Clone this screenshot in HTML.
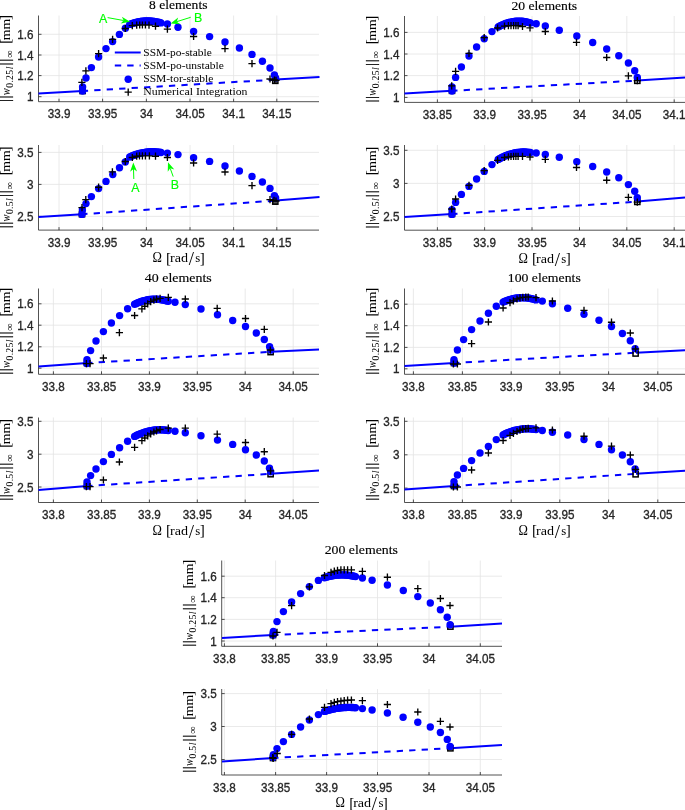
<!DOCTYPE html>
<html><head><meta charset="utf-8"><title>SSM figure</title>
<style>
html,body{margin:0;padding:0;background:#fff}
svg{display:block}
.tk{font-family:"Liberation Sans",sans-serif;font-size:11.7px;fill:#262626;stroke:#262626;stroke-width:0.3px}
.se{font-family:"Liberation Serif",serif;fill:#000}
.gr{font-family:"Liberation Sans",sans-serif;font-size:12.4px;fill:#00ff00;stroke:#00ff00;stroke-width:0.15px}
</style></head><body>
<svg width="685" height="810" viewBox="0 0 685 810">
<rect width="685" height="810" fill="#fff"/>
<g id="plot1">
<path d="M59 15.5V101.7M102.6 15.5V101.7M146.4 15.5V101.7M190 15.5V101.7M233.6 15.5V101.7M276.8 15.5V101.7M38.5 34.3H319M38.5 55H319M38.5 75.6H319M38.5 96.7H319" stroke="#e4e4e4" stroke-width="0.8" fill="none"/>
<path d="M38.5 15.5V101.7H319M59 101.7v-3M102.6 101.7v-3M146.4 101.7v-3M190 101.7v-3M233.6 101.7v-3M276.8 101.7v-3M38.5 34.3h3M38.5 55h3M38.5 75.6h3M38.5 96.7h3" stroke="#262626" stroke-width="0.8" fill="none"/>
<path d="M38.5 93.6L82.6 91M276 79.6L319.5 77" stroke="#0000ff" stroke-width="2" fill="none"/>
<path d="M82.6 91L276 79.6" stroke="#0000ff" stroke-width="2" stroke-dasharray="6.3 6.17" stroke-dashoffset="0.8" fill="none"/>
<rect x="80" y="88.4" width="5.2" height="5.2" stroke="#000" stroke-width="1.5" fill="none"/>
<rect x="272.7" y="78.2" width="5.2" height="5.2" stroke="#000" stroke-width="1.5" fill="none"/>
<g fill="#0000ff"><circle cx="82.6" cy="91" r="3.7"/><circle cx="82.6" cy="87" r="3.7"/><circle cx="86" cy="78" r="3.7"/><circle cx="91.4" cy="67.6" r="3.7"/><circle cx="98.6" cy="57" r="3.7"/><circle cx="106" cy="48.6" r="3.7"/><circle cx="112.6" cy="41.6" r="3.7"/><circle cx="119.4" cy="34.4" r="3.7"/><circle cx="125.4" cy="28.2" r="3.7"/><circle cx="129.7" cy="24.4" r="3.7"/><circle cx="131.06" cy="23.89" r="3.7"/><circle cx="132.42" cy="23.42" r="3.7"/><circle cx="133.78" cy="22.99" r="3.7"/><circle cx="135.14" cy="22.61" r="3.7"/><circle cx="136.5" cy="22.26" r="3.7"/><circle cx="137.87" cy="21.95" r="3.7"/><circle cx="139.23" cy="21.68" r="3.7"/><circle cx="140.59" cy="21.46" r="3.7"/><circle cx="141.95" cy="21.27" r="3.7"/><circle cx="143.31" cy="21.13" r="3.7"/><circle cx="144.67" cy="21.02" r="3.7"/><circle cx="146.03" cy="20.96" r="3.7"/><circle cx="147.39" cy="20.93" r="3.7"/><circle cx="148.75" cy="20.95" r="3.7"/><circle cx="150.11" cy="21" r="3.7"/><circle cx="151.47" cy="21.1" r="3.7"/><circle cx="152.83" cy="21.23" r="3.7"/><circle cx="154.2" cy="21.41" r="3.7"/><circle cx="155.56" cy="21.63" r="3.7"/><circle cx="156.92" cy="21.89" r="3.7"/><circle cx="158.28" cy="22.18" r="3.7"/><circle cx="159.64" cy="22.52" r="3.7"/><circle cx="161" cy="22.9" r="3.7"/><circle cx="167.4" cy="24" r="3.7"/><circle cx="178" cy="27.2" r="3.7"/><circle cx="193.6" cy="31.4" r="3.7"/><circle cx="209.6" cy="36.6" r="3.7"/><circle cx="225" cy="42" r="3.7"/><circle cx="239.4" cy="48" r="3.7"/><circle cx="252" cy="54.4" r="3.7"/><circle cx="262.4" cy="61.2" r="3.7"/><circle cx="270" cy="68" r="3.7"/><circle cx="274.4" cy="75" r="3.7"/><circle cx="275.6" cy="78" r="3.7"/></g>
<path d="M78.3 82.3h7.2M81.9 78.7v7.2M82.3 70.8h7.2M85.9 67.2v7.2M95 53.6h7.2M98.6 50v7.2M109 39.4h7.2M112.6 35.8v7.2M121.7 28.5h7.2M125.3 24.9v7.2M128.7 25.6h7.2M132.3 22v7.2M133.1 25.1h7.2M136.7 21.5v7.2M136.1 25h7.2M139.7 21.4v7.2M138.8 25h7.2M142.4 21.4v7.2M141.8 25h7.2M145.4 21.4v7.2M145.4 25.1h7.2M149 21.5v7.2M151.9 26.2h7.2M155.5 22.6v7.2M163.8 29.1h7.2M167.4 25.5v7.2M190 36.5h7.2M193.6 32.9v7.2M221.4 48.6h7.2M225 45v7.2M248.4 63.6h7.2M252 60v7.2M266.4 79h7.2M270 75.4v7.2M270.8 80h7.2M274.4 76.4v7.2M272.4 80.4h7.2M276 76.8v7.2" stroke="#000" stroke-width="1.35" fill="none"/>
<text class="tk" transform="translate(59 118.3) scale(1 1.15)" text-anchor="middle">33.9</text><text class="tk" transform="translate(102.6 118.3) scale(1 1.15)" text-anchor="middle">33.95</text><text class="tk" transform="translate(146.4 118.3) scale(1 1.15)" text-anchor="middle">34</text><text class="tk" transform="translate(190 118.3) scale(1 1.15)" text-anchor="middle">34.05</text><text class="tk" transform="translate(233.6 118.3) scale(1 1.15)" text-anchor="middle">34.1</text><text class="tk" transform="translate(276.8 118.3) scale(1 1.15)" text-anchor="middle">34.15</text>
<text class="tk" transform="translate(33.5 38.9) scale(1 1.15)" text-anchor="end">1.6</text><text class="tk" transform="translate(33.5 59.6) scale(1 1.15)" text-anchor="end">1.4</text><text class="tk" transform="translate(33.5 80.2) scale(1 1.15)" text-anchor="end">1.2</text><text class="tk" transform="translate(33.5 101.3) scale(1 1.15)" text-anchor="end">1</text>
<g transform="translate(10 101.85) rotate(-90)" class="se"><text font-size="15.1" y="-0.2" stroke="#000" stroke-width="0.25" x="-0.16 3.34 36.34 40.14">||||</text><text font-size="13.4" font-style="italic" x="6.6" y="0" textLength="7" lengthAdjust="spacingAndGlyphs">w</text><text font-size="9.7" y="2.7"><tspan x="14.1 19.3 21.9 27.1">0.25</tspan><tspan font-style="italic" x="32.5">l</tspan></text><text font-size="10.5" x="44" y="2.8">∞</text><text font-size="15.1" y="-0.2" x="58.1">[</text><text font-size="12.8" x="61.6" y="0" textLength="21.5" lengthAdjust="spacingAndGlyphs">mm</text><text font-size="15.1" y="-0.2" x="81.8">]</text></g>
<text class="se" font-size="13.3" stroke="#000" stroke-width="0.15" x="178.25" y="9.1" text-anchor="middle" textLength="58.4" lengthAdjust="spacingAndGlyphs">8 elements</text>
</g>
<g id="plot2">
<path d="M59 145V230.1M102.6 145V230.1M146.4 145V230.1M190 145V230.1M233.6 145V230.1M276.8 145V230.1M38.5 152.4H319M38.5 184.4H319M38.5 216.4H319" stroke="#e4e4e4" stroke-width="0.8" fill="none"/>
<path d="M38.5 145V230.1H319M59 230.1v-3M102.6 230.1v-3M146.4 230.1v-3M190 230.1v-3M233.6 230.1v-3M276.8 230.1v-3M38.5 152.4h3M38.5 184.4h3M38.5 216.4h3" stroke="#262626" stroke-width="0.8" fill="none"/>
<path d="M38.5 217.1L82 214.2M276 200.6L319.5 197" stroke="#0000ff" stroke-width="2" fill="none"/>
<path d="M82 214.2L276 200.6" stroke="#0000ff" stroke-width="2" stroke-dasharray="6.3 6.17" stroke-dashoffset="0.8" fill="none"/>
<rect x="79.4" y="211.6" width="5.2" height="5.2" stroke="#000" stroke-width="1.5" fill="none"/>
<rect x="272.7" y="199" width="5.2" height="5.2" stroke="#000" stroke-width="1.5" fill="none"/>
<g fill="#0000ff"><circle cx="82" cy="214.4" r="3.7"/><circle cx="82.4" cy="210" r="3.7"/><circle cx="86" cy="203.6" r="3.7"/><circle cx="91.4" cy="196.6" r="3.7"/><circle cx="98.6" cy="188.6" r="3.7"/><circle cx="106" cy="181.4" r="3.7"/><circle cx="112.8" cy="174.6" r="3.7"/><circle cx="119.5" cy="167.8" r="3.7"/><circle cx="125.3" cy="162" r="3.7"/><circle cx="129.7" cy="157" r="3.7"/><circle cx="131.06" cy="156.39" r="3.7"/><circle cx="132.42" cy="155.81" r="3.7"/><circle cx="133.78" cy="155.28" r="3.7"/><circle cx="135.14" cy="154.78" r="3.7"/><circle cx="136.5" cy="154.32" r="3.7"/><circle cx="137.87" cy="153.9" r="3.7"/><circle cx="139.23" cy="153.51" r="3.7"/><circle cx="140.59" cy="153.16" r="3.7"/><circle cx="141.95" cy="152.86" r="3.7"/><circle cx="143.31" cy="152.58" r="3.7"/><circle cx="144.67" cy="152.35" r="3.7"/><circle cx="146.03" cy="152.15" r="3.7"/><circle cx="147.39" cy="152" r="3.7"/><circle cx="148.75" cy="151.88" r="3.7"/><circle cx="150.11" cy="151.79" r="3.7"/><circle cx="151.47" cy="151.75" r="3.7"/><circle cx="152.83" cy="151.74" r="3.7"/><circle cx="154.2" cy="151.78" r="3.7"/><circle cx="155.56" cy="151.84" r="3.7"/><circle cx="156.92" cy="151.95" r="3.7"/><circle cx="158.28" cy="152.1" r="3.7"/><circle cx="159.64" cy="152.28" r="3.7"/><circle cx="161" cy="152.5" r="3.7"/><circle cx="167.4" cy="153.1" r="3.7"/><circle cx="178" cy="154.6" r="3.7"/><circle cx="193.6" cy="157.7" r="3.7"/><circle cx="209.6" cy="161.4" r="3.7"/><circle cx="225" cy="166" r="3.7"/><circle cx="239.4" cy="171" r="3.7"/><circle cx="252" cy="176.4" r="3.7"/><circle cx="262.4" cy="182" r="3.7"/><circle cx="270" cy="188.4" r="3.7"/><circle cx="274.4" cy="195.6" r="3.7"/><circle cx="275.6" cy="198" r="3.7"/></g>
<path d="M78.4 207.6h7.2M82 204v7.2M82.2 199.6h7.2M85.8 196v7.2M95 187.2h7.2M98.6 183.6v7.2M108.8 171.8h7.2M112.4 168.2v7.2M121.7 161.5h7.2M125.3 157.9v7.2M128.7 157.5h7.2M132.3 153.9v7.2M133.1 156.2h7.2M136.7 152.6v7.2M135.9 155.8h7.2M139.5 152.2v7.2M138.8 155.8h7.2M142.4 152.2v7.2M141.8 155.8h7.2M145.4 152.2v7.2M145.8 155.8h7.2M149.4 152.2v7.2M151.9 156.2h7.2M155.5 152.6v7.2M163.8 157.5h7.2M167.4 153.9v7.2M190 163h7.2M193.6 159.4v7.2M221.4 172h7.2M225 168.4v7.2M248.4 185.6h7.2M252 182v7.2M266.4 199.6h7.2M270 196v7.2M270.4 200.4h7.2M274 196.8v7.2M272.4 201h7.2M276 197.4v7.2" stroke="#000" stroke-width="1.35" fill="none"/>
<text class="tk" transform="translate(59 246.7) scale(1 1.15)" text-anchor="middle">33.9</text><text class="tk" transform="translate(102.6 246.7) scale(1 1.15)" text-anchor="middle">33.95</text><text class="tk" transform="translate(146.4 246.7) scale(1 1.15)" text-anchor="middle">34</text><text class="tk" transform="translate(190 246.7) scale(1 1.15)" text-anchor="middle">34.05</text><text class="tk" transform="translate(233.6 246.7) scale(1 1.15)" text-anchor="middle">34.1</text><text class="tk" transform="translate(276.8 246.7) scale(1 1.15)" text-anchor="middle">34.15</text>
<text class="tk" transform="translate(33.5 157) scale(1 1.15)" text-anchor="end">3.5</text><text class="tk" transform="translate(33.5 189) scale(1 1.15)" text-anchor="end">3</text><text class="tk" transform="translate(33.5 221) scale(1 1.15)" text-anchor="end">2.5</text>
<g transform="translate(10 228.2) rotate(-90)" class="se"><text font-size="15.1" y="-0.2" stroke="#000" stroke-width="0.25" x="-0.16 3.34 31.14 34.94">||||</text><text font-size="13.4" font-style="italic" x="6.6" y="0" textLength="7" lengthAdjust="spacingAndGlyphs">w</text><text font-size="9.7" y="2.7"><tspan x="14.1 19.3 21.9">0.5</tspan><tspan font-style="italic" x="27.3">l</tspan></text><text font-size="10.5" x="38.8" y="2.8">∞</text><text font-size="15.1" y="-0.2" x="52.9">[</text><text font-size="12.8" x="56.4" y="0" textLength="21.5" lengthAdjust="spacingAndGlyphs">mm</text><text font-size="15.1" y="-0.2" x="76.6">]</text></g>
<g class="se" transform="translate(178.25 262.4)"><text font-size="14.2" x="-25.8" textLength="9.4" lengthAdjust="spacingAndGlyphs">Ω</text><text font-size="15.2" x="-12.2" y="0.6">[</text><text font-size="12.8" x="-8.2" textLength="18" lengthAdjust="spacingAndGlyphs">rad</text><text font-size="18.8" x="10.4" y="3">/</text><text font-size="12.8" x="17.1">s</text><text font-size="15.2" x="21.4" y="0.6">]</text></g>
</g>
<g id="plot3">
<path d="M437.4 16V102.4M484.6 16V102.4M532 16V102.4M579.5 16V102.4M626.8 16V102.4M674.2 16V102.4M404.5 32.4H685M404.5 54H685M404.5 75.6H685M404.5 97.4H685" stroke="#e4e4e4" stroke-width="0.8" fill="none"/>
<path d="M404.5 16V102.4H685M437.4 102.4v-3M484.6 102.4v-3M532 102.4v-3M579.5 102.4v-3M626.8 102.4v-3M674.2 102.4v-3M404.5 32.4h3M404.5 54h3M404.5 75.6h3M404.5 97.4h3" stroke="#262626" stroke-width="0.8" fill="none"/>
<path d="M404.5 93.6L452 90.8M637.3 80.6L685 77.6" stroke="#0000ff" stroke-width="2" fill="none"/>
<path d="M452 90.8L637.3 80.6" stroke="#0000ff" stroke-width="2" stroke-dasharray="6.3 6.17" stroke-dashoffset="0.8" fill="none"/>
<rect x="449.4" y="88.2" width="5.2" height="5.2" stroke="#000" stroke-width="1.5" fill="none"/>
<rect x="634.7" y="78.2" width="5.2" height="5.2" stroke="#000" stroke-width="1.5" fill="none"/>
<g fill="#0000ff"><circle cx="452" cy="91" r="3.7"/><circle cx="452" cy="87" r="3.7"/><circle cx="455.6" cy="77.4" r="3.7"/><circle cx="461.4" cy="67" r="3.7"/><circle cx="469" cy="56" r="3.7"/><circle cx="476.6" cy="47" r="3.7"/><circle cx="484.2" cy="38.8" r="3.7"/><circle cx="492" cy="31.6" r="3.7"/><circle cx="498.2" cy="27" r="3.7"/><circle cx="499.54" cy="26.26" r="3.7"/><circle cx="500.88" cy="25.57" r="3.7"/><circle cx="502.22" cy="24.94" r="3.7"/><circle cx="503.57" cy="24.35" r="3.7"/><circle cx="504.91" cy="23.81" r="3.7"/><circle cx="506.25" cy="23.32" r="3.7"/><circle cx="507.59" cy="22.88" r="3.7"/><circle cx="508.93" cy="22.49" r="3.7"/><circle cx="510.27" cy="22.15" r="3.7"/><circle cx="511.62" cy="21.86" r="3.7"/><circle cx="512.96" cy="21.62" r="3.7"/><circle cx="514.3" cy="21.42" r="3.7"/><circle cx="515.64" cy="21.28" r="3.7"/><circle cx="516.98" cy="21.19" r="3.7"/><circle cx="518.32" cy="21.15" r="3.7"/><circle cx="519.67" cy="21.15" r="3.7"/><circle cx="521.01" cy="21.21" r="3.7"/><circle cx="522.35" cy="21.32" r="3.7"/><circle cx="523.69" cy="21.47" r="3.7"/><circle cx="525.03" cy="21.68" r="3.7"/><circle cx="526.38" cy="21.94" r="3.7"/><circle cx="527.72" cy="22.24" r="3.7"/><circle cx="529.06" cy="22.6" r="3.7"/><circle cx="530.4" cy="23" r="3.7"/><circle cx="536.2" cy="23.8" r="3.7"/><circle cx="545.3" cy="26" r="3.7"/><circle cx="559.3" cy="30.3" r="3.7"/><circle cx="576.8" cy="36" r="3.7"/><circle cx="592.7" cy="42.5" r="3.7"/><circle cx="606.7" cy="49" r="3.7"/><circle cx="618.8" cy="55.8" r="3.7"/><circle cx="628.4" cy="63" r="3.7"/><circle cx="634.7" cy="70.7" r="3.7"/><circle cx="637.3" cy="77.4" r="3.7"/></g>
<path d="M448.1 85.8h7.2M451.7 82.2v7.2M452 71.4h7.2M455.6 67.8v7.2M465.4 53.4h7.2M469 49.8v7.2M480.6 37.6h7.2M484.2 34v7.2M494 28h7.2M497.6 24.4v7.2M500.9 26.1h7.2M504.5 22.5v7.2M504.8 25.7h7.2M508.4 22.1v7.2M507.4 25.6h7.2M511 22v7.2M510 25.6h7.2M513.6 22v7.2M512.3 25.6h7.2M515.9 22v7.2M514.5 25.7h7.2M518.1 22.1v7.2M518.9 26.5h7.2M522.5 22.9v7.2M526.4 27.9h7.2M530 24.3v7.2M541.7 31.5h7.2M545.3 27.9v7.2M572.9 42.4h7.2M576.5 38.8v7.2M603.1 57.5h7.2M606.7 53.9v7.2M624.8 75.8h7.2M628.4 72.2v7.2M633.7 80.6h7.2M637.3 77v7.2" stroke="#000" stroke-width="1.35" fill="none"/>
<text class="tk" transform="translate(437.4 119) scale(1 1.15)" text-anchor="middle">33.85</text><text class="tk" transform="translate(484.6 119) scale(1 1.15)" text-anchor="middle">33.9</text><text class="tk" transform="translate(532 119) scale(1 1.15)" text-anchor="middle">33.95</text><text class="tk" transform="translate(579.5 119) scale(1 1.15)" text-anchor="middle">34</text><text class="tk" transform="translate(626.8 119) scale(1 1.15)" text-anchor="middle">34.05</text><text class="tk" transform="translate(674.2 119) scale(1 1.15)" text-anchor="middle">34.1</text>
<text class="tk" transform="translate(399.5 37) scale(1 1.15)" text-anchor="end">1.6</text><text class="tk" transform="translate(399.5 58.6) scale(1 1.15)" text-anchor="end">1.4</text><text class="tk" transform="translate(399.5 80.2) scale(1 1.15)" text-anchor="end">1.2</text><text class="tk" transform="translate(399.5 102) scale(1 1.15)" text-anchor="end">1</text>
<g transform="translate(376 102.45) rotate(-90)" class="se"><text font-size="15.1" y="-0.2" stroke="#000" stroke-width="0.25" x="-0.16 3.34 36.34 40.14">||||</text><text font-size="13.4" font-style="italic" x="6.6" y="0" textLength="7" lengthAdjust="spacingAndGlyphs">w</text><text font-size="9.7" y="2.7"><tspan x="14.1 19.3 21.9 27.1">0.25</tspan><tspan font-style="italic" x="32.5">l</tspan></text><text font-size="10.5" x="44" y="2.8">∞</text><text font-size="15.1" y="-0.2" x="58.1">[</text><text font-size="12.8" x="61.6" y="0" textLength="21.5" lengthAdjust="spacingAndGlyphs">mm</text><text font-size="15.1" y="-0.2" x="81.8">]</text></g>
<text class="se" font-size="13.3" stroke="#000" stroke-width="0.15" x="544.25" y="9.6" text-anchor="middle" textLength="65.7" lengthAdjust="spacingAndGlyphs">20 elements</text>
</g>
<g id="plot4">
<path d="M437.4 145V230.2M484.6 145V230.2M532 145V230.2M579.5 145V230.2M626.8 145V230.2M674.2 145V230.2M404.5 150.3H685M404.5 183.4H685M404.5 216.5H685" stroke="#e4e4e4" stroke-width="0.8" fill="none"/>
<path d="M404.5 145V230.2H685M437.4 230.2v-3M484.6 230.2v-3M532 230.2v-3M579.5 230.2v-3M626.8 230.2v-3M674.2 230.2v-3M404.5 150.3h3M404.5 183.4h3M404.5 216.5h3" stroke="#262626" stroke-width="0.8" fill="none"/>
<path d="M404.5 217L452 214M637.3 201.6L685 197.4" stroke="#0000ff" stroke-width="2" fill="none"/>
<path d="M452 214L637.3 201.6" stroke="#0000ff" stroke-width="2" stroke-dasharray="6.3 6.17" stroke-dashoffset="0.8" fill="none"/>
<rect x="449.4" y="211.4" width="5.2" height="5.2" stroke="#000" stroke-width="1.5" fill="none"/>
<rect x="634.7" y="199.3" width="5.2" height="5.2" stroke="#000" stroke-width="1.5" fill="none"/>
<g fill="#0000ff"><circle cx="452" cy="214.4" r="3.7"/><circle cx="452" cy="209.6" r="3.7"/><circle cx="455.6" cy="202.4" r="3.7"/><circle cx="461.4" cy="194.4" r="3.7"/><circle cx="469" cy="186.4" r="3.7"/><circle cx="476.6" cy="179" r="3.7"/><circle cx="484.2" cy="171.4" r="3.7"/><circle cx="492" cy="164.6" r="3.7"/><circle cx="498.2" cy="159.4" r="3.7"/><circle cx="499.54" cy="158.65" r="3.7"/><circle cx="500.88" cy="157.94" r="3.7"/><circle cx="502.22" cy="157.27" r="3.7"/><circle cx="503.57" cy="156.64" r="3.7"/><circle cx="504.91" cy="156.06" r="3.7"/><circle cx="506.25" cy="155.51" r="3.7"/><circle cx="507.59" cy="155" r="3.7"/><circle cx="508.93" cy="154.53" r="3.7"/><circle cx="510.27" cy="154.1" r="3.7"/><circle cx="511.62" cy="153.71" r="3.7"/><circle cx="512.96" cy="153.37" r="3.7"/><circle cx="514.3" cy="153.06" r="3.7"/><circle cx="515.64" cy="152.79" r="3.7"/><circle cx="516.98" cy="152.56" r="3.7"/><circle cx="518.32" cy="152.38" r="3.7"/><circle cx="519.67" cy="152.23" r="3.7"/><circle cx="521.01" cy="152.12" r="3.7"/><circle cx="522.35" cy="152.06" r="3.7"/><circle cx="523.69" cy="152.03" r="3.7"/><circle cx="525.03" cy="152.04" r="3.7"/><circle cx="526.38" cy="152.1" r="3.7"/><circle cx="527.72" cy="152.19" r="3.7"/><circle cx="529.06" cy="152.33" r="3.7"/><circle cx="530.4" cy="152.5" r="3.7"/><circle cx="536.2" cy="153" r="3.7"/><circle cx="545.3" cy="154.4" r="3.7"/><circle cx="559.3" cy="157.2" r="3.7"/><circle cx="576.8" cy="161.7" r="3.7"/><circle cx="592.7" cy="166.5" r="3.7"/><circle cx="606.7" cy="172" r="3.7"/><circle cx="618.8" cy="177.8" r="3.7"/><circle cx="628.4" cy="184.6" r="3.7"/><circle cx="634.7" cy="191.3" r="3.7"/><circle cx="637.3" cy="197.8" r="3.7"/></g>
<path d="M448.2 209h7.2M451.8 205.4v7.2M452 199h7.2M455.6 195.4v7.2M465.4 185.4h7.2M469 181.8v7.2M480.6 170.6h7.2M484.2 167v7.2M494 160.3h7.2M497.6 156.7v7.2M500.9 157.5h7.2M504.5 153.9v7.2M504.8 156.8h7.2M508.4 153.2v7.2M507.4 156.5h7.2M511 152.9v7.2M510 156.4h7.2M513.6 152.8v7.2M512.3 156.4h7.2M515.9 152.8v7.2M514.5 156.4h7.2M518.1 152.8v7.2M518.9 156.4h7.2M522.5 152.8v7.2M526.4 157h7.2M530 153.4v7.2M541.7 159.4h7.2M545.3 155.8v7.2M572.9 167.5h7.2M576.5 163.9v7.2M603.1 180.2h7.2M606.7 176.6v7.2M624.8 197.3h7.2M628.4 193.7v7.2M633.7 202.1h7.2M637.3 198.5v7.2" stroke="#000" stroke-width="1.35" fill="none"/>
<text class="tk" transform="translate(437.4 246.8) scale(1 1.15)" text-anchor="middle">33.85</text><text class="tk" transform="translate(484.6 246.8) scale(1 1.15)" text-anchor="middle">33.9</text><text class="tk" transform="translate(532 246.8) scale(1 1.15)" text-anchor="middle">33.95</text><text class="tk" transform="translate(579.5 246.8) scale(1 1.15)" text-anchor="middle">34</text><text class="tk" transform="translate(626.8 246.8) scale(1 1.15)" text-anchor="middle">34.05</text><text class="tk" transform="translate(674.2 246.8) scale(1 1.15)" text-anchor="middle">34.1</text>
<text class="tk" transform="translate(399.5 154.9) scale(1 1.15)" text-anchor="end">3.5</text><text class="tk" transform="translate(399.5 188) scale(1 1.15)" text-anchor="end">3</text><text class="tk" transform="translate(399.5 221.1) scale(1 1.15)" text-anchor="end">2.5</text>
<g transform="translate(376 228.25) rotate(-90)" class="se"><text font-size="15.1" y="-0.2" stroke="#000" stroke-width="0.25" x="-0.16 3.34 31.14 34.94">||||</text><text font-size="13.4" font-style="italic" x="6.6" y="0" textLength="7" lengthAdjust="spacingAndGlyphs">w</text><text font-size="9.7" y="2.7"><tspan x="14.1 19.3 21.9">0.5</tspan><tspan font-style="italic" x="27.3">l</tspan></text><text font-size="10.5" x="38.8" y="2.8">∞</text><text font-size="15.1" y="-0.2" x="52.9">[</text><text font-size="12.8" x="56.4" y="0" textLength="21.5" lengthAdjust="spacingAndGlyphs">mm</text><text font-size="15.1" y="-0.2" x="76.6">]</text></g>
<g class="se" transform="translate(544.25 262.5)"><text font-size="14.2" x="-25.8" textLength="9.4" lengthAdjust="spacingAndGlyphs">Ω</text><text font-size="15.2" x="-12.2" y="0.6">[</text><text font-size="12.8" x="-8.2" textLength="18" lengthAdjust="spacingAndGlyphs">rad</text><text font-size="18.8" x="10.4" y="3">/</text><text font-size="12.8" x="17.1">s</text><text font-size="15.2" x="21.4" y="0.6">]</text></g>
</g>
<g id="plot5">
<path d="M53.4 288.5V374.3M101.5 288.5V374.3M149.4 288.5V374.3M197.3 288.5V374.3M245.2 288.5V374.3M293.2 288.5V374.3M38.5 303.8H319M38.5 325.2H319M38.5 346.8H319M38.5 368.2H319" stroke="#e4e4e4" stroke-width="0.8" fill="none"/>
<path d="M38.5 288.5V374.3H319M53.4 374.3v-3M101.5 374.3v-3M149.4 374.3v-3M197.3 374.3v-3M245.2 374.3v-3M293.2 374.3v-3M38.5 303.8h3M38.5 325.2h3M38.5 346.8h3M38.5 368.2h3" stroke="#262626" stroke-width="0.8" fill="none"/>
<path d="M38.5 366.4L87 363M270.8 351.8L319 349.6" stroke="#0000ff" stroke-width="2" fill="none"/>
<path d="M87 363L270.8 351.8" stroke="#0000ff" stroke-width="2" stroke-dasharray="6.3 6.17" stroke-dashoffset="0.8" fill="none"/>
<rect x="84.4" y="360.4" width="5.2" height="5.2" stroke="#000" stroke-width="1.5" fill="none"/>
<rect x="268" y="349.5" width="5.2" height="5.2" stroke="#000" stroke-width="1.5" fill="none"/>
<g fill="#0000ff"><circle cx="86.8" cy="363.6" r="3.7"/><circle cx="87" cy="359.8" r="3.7"/><circle cx="90.6" cy="350.6" r="3.7"/><circle cx="96" cy="341" r="3.7"/><circle cx="103.4" cy="331.6" r="3.7"/><circle cx="111.4" cy="323" r="3.7"/><circle cx="119.6" cy="315.6" r="3.7"/><circle cx="127.6" cy="308.8" r="3.7"/><circle cx="134.6" cy="304.3" r="3.7"/><circle cx="135.94" cy="303.65" r="3.7"/><circle cx="137.29" cy="303.04" r="3.7"/><circle cx="138.63" cy="302.48" r="3.7"/><circle cx="139.98" cy="301.96" r="3.7"/><circle cx="141.32" cy="301.48" r="3.7"/><circle cx="142.66" cy="301.05" r="3.7"/><circle cx="144.01" cy="300.67" r="3.7"/><circle cx="145.35" cy="300.33" r="3.7"/><circle cx="146.7" cy="300.03" r="3.7"/><circle cx="148.04" cy="299.78" r="3.7"/><circle cx="149.38" cy="299.57" r="3.7"/><circle cx="150.73" cy="299.4" r="3.7"/><circle cx="152.07" cy="299.28" r="3.7"/><circle cx="153.42" cy="299.21" r="3.7"/><circle cx="154.76" cy="299.18" r="3.7"/><circle cx="156.1" cy="299.19" r="3.7"/><circle cx="157.45" cy="299.25" r="3.7"/><circle cx="158.79" cy="299.35" r="3.7"/><circle cx="160.14" cy="299.49" r="3.7"/><circle cx="161.48" cy="299.68" r="3.7"/><circle cx="162.82" cy="299.92" r="3.7"/><circle cx="164.17" cy="300.2" r="3.7"/><circle cx="165.51" cy="300.52" r="3.7"/><circle cx="166.86" cy="300.89" r="3.7"/><circle cx="168.2" cy="301.3" r="3.7"/><circle cx="175" cy="302.2" r="3.7"/><circle cx="185.3" cy="304.6" r="3.7"/><circle cx="201" cy="309" r="3.7"/><circle cx="217.5" cy="314.7" r="3.7"/><circle cx="232.7" cy="320.5" r="3.7"/><circle cx="245.5" cy="326.5" r="3.7"/><circle cx="256.3" cy="333" r="3.7"/><circle cx="264.3" cy="339.5" r="3.7"/><circle cx="269.6" cy="346.7" r="3.7"/><circle cx="270.8" cy="350" r="3.7"/></g>
<path d="M82.8 363.6h7.2M86.4 360v7.2M86.4 363.6h7.2M90 360v7.2M99.8 358h7.2M103.4 354.4v7.2M115.8 332.6h7.2M119.4 329v7.2M131 315.5h7.2M134.6 311.9v7.2M138.3 308.8h7.2M141.9 305.2v7.2M141.2 306.2h7.2M144.8 302.6v7.2M144.1 303.8h7.2M147.7 300.2v7.2M147.1 301.6h7.2M150.7 298v7.2M150.3 300.1h7.2M153.9 296.5v7.2M152.9 299.1h7.2M156.5 295.5v7.2M156.5 298.3h7.2M160.1 294.7v7.2M164.7 297.4h7.2M168.3 293.8v7.2M181.7 299h7.2M185.3 295.4v7.2M213.6 308.4h7.2M217.2 304.8v7.2M241.9 318.5h7.2M245.5 314.9v7.2M260.7 329.4h7.2M264.3 325.8v7.2M266.7 350h7.2M270.3 346.4v7.2" stroke="#000" stroke-width="1.35" fill="none"/>
<text class="tk" transform="translate(53.4 390.9) scale(1 1.15)" text-anchor="middle">33.8</text><text class="tk" transform="translate(101.5 390.9) scale(1 1.15)" text-anchor="middle">33.85</text><text class="tk" transform="translate(149.4 390.9) scale(1 1.15)" text-anchor="middle">33.9</text><text class="tk" transform="translate(197.3 390.9) scale(1 1.15)" text-anchor="middle">33.95</text><text class="tk" transform="translate(245.2 390.9) scale(1 1.15)" text-anchor="middle">34</text><text class="tk" transform="translate(293.2 390.9) scale(1 1.15)" text-anchor="middle">34.05</text>
<text class="tk" transform="translate(33.5 308.4) scale(1 1.15)" text-anchor="end">1.6</text><text class="tk" transform="translate(33.5 329.8) scale(1 1.15)" text-anchor="end">1.4</text><text class="tk" transform="translate(33.5 351.4) scale(1 1.15)" text-anchor="end">1.2</text><text class="tk" transform="translate(33.5 372.8) scale(1 1.15)" text-anchor="end">1</text>
<g transform="translate(10 374.65) rotate(-90)" class="se"><text font-size="15.1" y="-0.2" stroke="#000" stroke-width="0.25" x="-0.16 3.34 36.34 40.14">||||</text><text font-size="13.4" font-style="italic" x="6.6" y="0" textLength="7" lengthAdjust="spacingAndGlyphs">w</text><text font-size="9.7" y="2.7"><tspan x="14.1 19.3 21.9 27.1">0.25</tspan><tspan font-style="italic" x="32.5">l</tspan></text><text font-size="10.5" x="44" y="2.8">∞</text><text font-size="15.1" y="-0.2" x="58.1">[</text><text font-size="12.8" x="61.6" y="0" textLength="21.5" lengthAdjust="spacingAndGlyphs">mm</text><text font-size="15.1" y="-0.2" x="81.8">]</text></g>
<text class="se" font-size="13.3" stroke="#000" stroke-width="0.15" x="178.25" y="282.1" text-anchor="middle" textLength="66.9" lengthAdjust="spacingAndGlyphs">40 elements</text>
</g>
<g id="plot6">
<path d="M53.4 417.5V502.5M101.5 417.5V502.5M149.4 417.5V502.5M197.3 417.5V502.5M245.2 417.5V502.5M293.2 417.5V502.5M38.5 421.3H319M38.5 454.2H319M38.5 487H319" stroke="#e4e4e4" stroke-width="0.8" fill="none"/>
<path d="M38.5 417.5V502.5H319M53.4 502.5v-3M101.5 502.5v-3M149.4 502.5v-3M197.3 502.5v-3M245.2 502.5v-3M293.2 502.5v-3M38.5 421.3h3M38.5 454.2h3M38.5 487h3" stroke="#262626" stroke-width="0.8" fill="none"/>
<path d="M38.5 490L87 486M270.8 473.8L319 470.6" stroke="#0000ff" stroke-width="2" fill="none"/>
<path d="M87 486L270.8 473.8" stroke="#0000ff" stroke-width="2" stroke-dasharray="6.3 6.17" stroke-dashoffset="0.8" fill="none"/>
<rect x="84.4" y="483.4" width="5.2" height="5.2" stroke="#000" stroke-width="1.5" fill="none"/>
<rect x="268" y="471.6" width="5.2" height="5.2" stroke="#000" stroke-width="1.5" fill="none"/>
<g fill="#0000ff"><circle cx="87" cy="486" r="3.7"/><circle cx="87" cy="482" r="3.7"/><circle cx="90.6" cy="475.6" r="3.7"/><circle cx="96" cy="469" r="3.7"/><circle cx="103.4" cy="461.6" r="3.7"/><circle cx="111.4" cy="454.4" r="3.7"/><circle cx="119.6" cy="447.8" r="3.7"/><circle cx="127.6" cy="441.2" r="3.7"/><circle cx="134.6" cy="436.4" r="3.7"/><circle cx="135.94" cy="435.72" r="3.7"/><circle cx="137.29" cy="435.07" r="3.7"/><circle cx="138.63" cy="434.47" r="3.7"/><circle cx="139.98" cy="433.89" r="3.7"/><circle cx="141.32" cy="433.36" r="3.7"/><circle cx="142.66" cy="432.87" r="3.7"/><circle cx="144.01" cy="432.41" r="3.7"/><circle cx="145.35" cy="431.98" r="3.7"/><circle cx="146.7" cy="431.6" r="3.7"/><circle cx="148.04" cy="431.25" r="3.7"/><circle cx="149.38" cy="430.94" r="3.7"/><circle cx="150.73" cy="430.67" r="3.7"/><circle cx="152.07" cy="430.43" r="3.7"/><circle cx="153.42" cy="430.23" r="3.7"/><circle cx="154.76" cy="430.07" r="3.7"/><circle cx="156.1" cy="429.95" r="3.7"/><circle cx="157.45" cy="429.86" r="3.7"/><circle cx="158.79" cy="429.81" r="3.7"/><circle cx="160.14" cy="429.8" r="3.7"/><circle cx="161.48" cy="429.82" r="3.7"/><circle cx="162.82" cy="429.88" r="3.7"/><circle cx="164.17" cy="429.98" r="3.7"/><circle cx="165.51" cy="430.12" r="3.7"/><circle cx="166.86" cy="430.29" r="3.7"/><circle cx="168.2" cy="430.5" r="3.7"/><circle cx="175" cy="431.2" r="3.7"/><circle cx="185.3" cy="432.8" r="3.7"/><circle cx="201" cy="435.8" r="3.7"/><circle cx="217.5" cy="440.1" r="3.7"/><circle cx="232.7" cy="444.4" r="3.7"/><circle cx="245.5" cy="449.7" r="3.7"/><circle cx="256.3" cy="455" r="3.7"/><circle cx="264.3" cy="461" r="3.7"/><circle cx="269.5" cy="468.2" r="3.7"/><circle cx="270.6" cy="471.8" r="3.7"/></g>
<path d="M82.8 486.6h7.2M86.4 483v7.2M86.4 486.6h7.2M90 483v7.2M99.8 480h7.2M103.4 476.4v7.2M115.8 462h7.2M119.4 458.4v7.2M131 447.3h7.2M134.6 443.7v7.2M138.3 440.6h7.2M141.9 437v7.2M141.2 438h7.2M144.8 434.4v7.2M144.1 435.8h7.2M147.7 432.2v7.2M147.1 433.8h7.2M150.7 430.2v7.2M150.3 432h7.2M153.9 428.4v7.2M152.9 430.8h7.2M156.5 427.2v7.2M156.5 429.5h7.2M160.1 425.9v7.2M164.7 428.1h7.2M168.3 424.5v7.2M181.7 428.1h7.2M185.3 424.5v7.2M213.6 434.1h7.2M217.2 430.5v7.2M241.9 442.5h7.2M245.5 438.9v7.2M260.7 451.7h7.2M264.3 448.1v7.2M267 470.8h7.2M270.6 467.2v7.2" stroke="#000" stroke-width="1.35" fill="none"/>
<text class="tk" transform="translate(53.4 519.1) scale(1 1.15)" text-anchor="middle">33.8</text><text class="tk" transform="translate(101.5 519.1) scale(1 1.15)" text-anchor="middle">33.85</text><text class="tk" transform="translate(149.4 519.1) scale(1 1.15)" text-anchor="middle">33.9</text><text class="tk" transform="translate(197.3 519.1) scale(1 1.15)" text-anchor="middle">33.95</text><text class="tk" transform="translate(245.2 519.1) scale(1 1.15)" text-anchor="middle">34</text><text class="tk" transform="translate(293.2 519.1) scale(1 1.15)" text-anchor="middle">34.05</text>
<text class="tk" transform="translate(33.5 425.9) scale(1 1.15)" text-anchor="end">3.5</text><text class="tk" transform="translate(33.5 458.8) scale(1 1.15)" text-anchor="end">3</text><text class="tk" transform="translate(33.5 491.6) scale(1 1.15)" text-anchor="end">2.5</text>
<g transform="translate(10 500.65) rotate(-90)" class="se"><text font-size="15.1" y="-0.2" stroke="#000" stroke-width="0.25" x="-0.16 3.34 31.14 34.94">||||</text><text font-size="13.4" font-style="italic" x="6.6" y="0" textLength="7" lengthAdjust="spacingAndGlyphs">w</text><text font-size="9.7" y="2.7"><tspan x="14.1 19.3 21.9">0.5</tspan><tspan font-style="italic" x="27.3">l</tspan></text><text font-size="10.5" x="38.8" y="2.8">∞</text><text font-size="15.1" y="-0.2" x="52.9">[</text><text font-size="12.8" x="56.4" y="0" textLength="21.5" lengthAdjust="spacingAndGlyphs">mm</text><text font-size="15.1" y="-0.2" x="76.6">]</text></g>
<g class="se" transform="translate(178.25 534.8)"><text font-size="14.2" x="-25.8" textLength="9.4" lengthAdjust="spacingAndGlyphs">Ω</text><text font-size="15.2" x="-12.2" y="0.6">[</text><text font-size="12.8" x="-8.2" textLength="18" lengthAdjust="spacingAndGlyphs">rad</text><text font-size="18.8" x="10.4" y="3">/</text><text font-size="12.8" x="17.1">s</text><text font-size="15.2" x="21.4" y="0.6">]</text></g>
</g>
<g id="plot7">
<path d="M413.4 288.5V374.3M462.4 288.5V374.3M511.2 288.5V374.3M559.8 288.5V374.3M608.6 288.5V374.3M657.8 288.5V374.3M404.5 304.2H685M404.5 325.7H685M404.5 347.4H685M404.5 368.8H685" stroke="#e4e4e4" stroke-width="0.8" fill="none"/>
<path d="M404.5 288.5V374.3H685M413.4 374.3v-3M462.4 374.3v-3M511.2 374.3v-3M559.8 374.3v-3M608.6 374.3v-3M657.8 374.3v-3M404.5 304.2h3M404.5 325.7h3M404.5 347.4h3M404.5 368.8h3" stroke="#262626" stroke-width="0.8" fill="none"/>
<path d="M404.5 366L454 363M636 352.7L685 350.3" stroke="#0000ff" stroke-width="2" fill="none"/>
<path d="M454 363L636 352.7" stroke="#0000ff" stroke-width="2" stroke-dasharray="6.3 6.17" stroke-dashoffset="0.8" fill="none"/>
<rect x="451.4" y="360.4" width="5.2" height="5.2" stroke="#000" stroke-width="1.5" fill="none"/>
<rect x="633" y="350.9" width="5.2" height="5.2" stroke="#000" stroke-width="1.5" fill="none"/>
<g fill="#0000ff"><circle cx="454" cy="363" r="3.7"/><circle cx="454" cy="359.6" r="3.7"/><circle cx="457.4" cy="350" r="3.7"/><circle cx="463.6" cy="339.6" r="3.7"/><circle cx="471.6" cy="329.6" r="3.7"/><circle cx="480" cy="321" r="3.7"/><circle cx="488.4" cy="313.2" r="3.7"/><circle cx="496.3" cy="306.3" r="3.7"/><circle cx="503.1" cy="302.1" r="3.7"/><circle cx="504.47" cy="301.49" r="3.7"/><circle cx="505.84" cy="300.93" r="3.7"/><circle cx="507.21" cy="300.41" r="3.7"/><circle cx="508.58" cy="299.93" r="3.7"/><circle cx="509.95" cy="299.5" r="3.7"/><circle cx="511.33" cy="299.12" r="3.7"/><circle cx="512.7" cy="298.78" r="3.7"/><circle cx="514.07" cy="298.49" r="3.7"/><circle cx="515.44" cy="298.24" r="3.7"/><circle cx="516.81" cy="298.03" r="3.7"/><circle cx="518.18" cy="297.88" r="3.7"/><circle cx="519.55" cy="297.76" r="3.7"/><circle cx="520.92" cy="297.69" r="3.7"/><circle cx="522.29" cy="297.67" r="3.7"/><circle cx="523.66" cy="297.69" r="3.7"/><circle cx="525.03" cy="297.75" r="3.7"/><circle cx="526.4" cy="297.87" r="3.7"/><circle cx="527.77" cy="298.02" r="3.7"/><circle cx="529.15" cy="298.22" r="3.7"/><circle cx="530.52" cy="298.47" r="3.7"/><circle cx="531.89" cy="298.76" r="3.7"/><circle cx="533.26" cy="299.09" r="3.7"/><circle cx="534.63" cy="299.47" r="3.7"/><circle cx="536" cy="299.9" r="3.7"/><circle cx="542.3" cy="301.1" r="3.7"/><circle cx="552.4" cy="303.8" r="3.7"/><circle cx="567.7" cy="308.3" r="3.7"/><circle cx="584" cy="314.3" r="3.7"/><circle cx="599" cy="320.2" r="3.7"/><circle cx="611.5" cy="326.5" r="3.7"/><circle cx="622.4" cy="333.5" r="3.7"/><circle cx="630.3" cy="340.7" r="3.7"/><circle cx="635.1" cy="348.6" r="3.7"/></g>
<path d="M449.8 364h7.2M453.4 360.4v7.2M453.8 364h7.2M457.4 360.4v7.2M468 343.6h7.2M471.6 340v7.2M484.8 322h7.2M488.4 318.4v7.2M499.5 308h7.2M503.1 304.4v7.2M506.4 302.7h7.2M510 299.1v7.2M509.8 300.8h7.2M513.4 297.2v7.2M513.4 299h7.2M517 295.4v7.2M516.4 297.9h7.2M520 294.3v7.2M519.2 297.4h7.2M522.8 293.8v7.2M522.2 297.1h7.2M525.8 293.5v7.2M524.6 297h7.2M528.2 293.4v7.2M532.4 297.6h7.2M536 294v7.2M548.8 301h7.2M552.4 297.4v7.2M580.4 310.4h7.2M584 306.8v7.2M607.9 322.2h7.2M611.5 318.6v7.2M626.7 333h7.2M630.3 329.4v7.2M632 349h7.2M635.6 345.4v7.2" stroke="#000" stroke-width="1.35" fill="none"/>
<text class="tk" transform="translate(413.4 390.9) scale(1 1.15)" text-anchor="middle">33.8</text><text class="tk" transform="translate(462.4 390.9) scale(1 1.15)" text-anchor="middle">33.85</text><text class="tk" transform="translate(511.2 390.9) scale(1 1.15)" text-anchor="middle">33.9</text><text class="tk" transform="translate(559.8 390.9) scale(1 1.15)" text-anchor="middle">33.95</text><text class="tk" transform="translate(608.6 390.9) scale(1 1.15)" text-anchor="middle">34</text><text class="tk" transform="translate(657.8 390.9) scale(1 1.15)" text-anchor="middle">34.05</text>
<text class="tk" transform="translate(399.5 308.8) scale(1 1.15)" text-anchor="end">1.6</text><text class="tk" transform="translate(399.5 330.3) scale(1 1.15)" text-anchor="end">1.4</text><text class="tk" transform="translate(399.5 352) scale(1 1.15)" text-anchor="end">1.2</text><text class="tk" transform="translate(399.5 373.4) scale(1 1.15)" text-anchor="end">1</text>
<g transform="translate(376 374.65) rotate(-90)" class="se"><text font-size="15.1" y="-0.2" stroke="#000" stroke-width="0.25" x="-0.16 3.34 36.34 40.14">||||</text><text font-size="13.4" font-style="italic" x="6.6" y="0" textLength="7" lengthAdjust="spacingAndGlyphs">w</text><text font-size="9.7" y="2.7"><tspan x="14.1 19.3 21.9 27.1">0.25</tspan><tspan font-style="italic" x="32.5">l</tspan></text><text font-size="10.5" x="44" y="2.8">∞</text><text font-size="15.1" y="-0.2" x="58.1">[</text><text font-size="12.8" x="61.6" y="0" textLength="21.5" lengthAdjust="spacingAndGlyphs">mm</text><text font-size="15.1" y="-0.2" x="81.8">]</text></g>
<text class="se" font-size="13.3" stroke="#000" stroke-width="0.15" x="544.25" y="282.1" text-anchor="middle" textLength="73" lengthAdjust="spacingAndGlyphs">100 elements</text>
</g>
<g id="plot8">
<path d="M413.4 417.5V502.5M462.4 417.5V502.5M511.2 417.5V502.5M559.8 417.5V502.5M608.6 417.5V502.5M657.8 417.5V502.5M404.5 421.3H685M404.5 454.8H685M404.5 488.1H685" stroke="#e4e4e4" stroke-width="0.8" fill="none"/>
<path d="M404.5 417.5V502.5H685M413.4 502.5v-3M462.4 502.5v-3M511.2 502.5v-3M559.8 502.5v-3M608.6 502.5v-3M657.8 502.5v-3M404.5 421.3h3M404.5 454.8h3M404.5 488.1h3" stroke="#262626" stroke-width="0.8" fill="none"/>
<path d="M404.5 489.4L454 486M636 473.8L685 470.7" stroke="#0000ff" stroke-width="2" fill="none"/>
<path d="M454 486L636 473.8" stroke="#0000ff" stroke-width="2" stroke-dasharray="6.3 6.17" stroke-dashoffset="0.8" fill="none"/>
<rect x="451.4" y="483.4" width="5.2" height="5.2" stroke="#000" stroke-width="1.5" fill="none"/>
<rect x="633" y="471.7" width="5.2" height="5.2" stroke="#000" stroke-width="1.5" fill="none"/>
<g fill="#0000ff"><circle cx="454" cy="485.6" r="3.7"/><circle cx="454" cy="481.6" r="3.7"/><circle cx="457.4" cy="475" r="3.7"/><circle cx="463.6" cy="468.4" r="3.7"/><circle cx="471.6" cy="460.6" r="3.7"/><circle cx="480" cy="453" r="3.7"/><circle cx="488.4" cy="446.4" r="3.7"/><circle cx="496.3" cy="439.6" r="3.7"/><circle cx="503.1" cy="434.9" r="3.7"/><circle cx="504.47" cy="434.22" r="3.7"/><circle cx="505.84" cy="433.57" r="3.7"/><circle cx="507.21" cy="432.97" r="3.7"/><circle cx="508.58" cy="432.4" r="3.7"/><circle cx="509.95" cy="431.88" r="3.7"/><circle cx="511.33" cy="431.4" r="3.7"/><circle cx="512.7" cy="430.95" r="3.7"/><circle cx="514.07" cy="430.55" r="3.7"/><circle cx="515.44" cy="430.19" r="3.7"/><circle cx="516.81" cy="429.87" r="3.7"/><circle cx="518.18" cy="429.59" r="3.7"/><circle cx="519.55" cy="429.35" r="3.7"/><circle cx="520.92" cy="429.14" r="3.7"/><circle cx="522.29" cy="428.98" r="3.7"/><circle cx="523.66" cy="428.86" r="3.7"/><circle cx="525.03" cy="428.78" r="3.7"/><circle cx="526.4" cy="428.75" r="3.7"/><circle cx="527.77" cy="428.75" r="3.7"/><circle cx="529.15" cy="428.79" r="3.7"/><circle cx="530.52" cy="428.87" r="3.7"/><circle cx="531.89" cy="428.99" r="3.7"/><circle cx="533.26" cy="429.15" r="3.7"/><circle cx="534.63" cy="429.36" r="3.7"/><circle cx="536" cy="429.6" r="3.7"/><circle cx="542.3" cy="430.5" r="3.7"/><circle cx="552.4" cy="432.2" r="3.7"/><circle cx="567.7" cy="435" r="3.7"/><circle cx="584" cy="439.5" r="3.7"/><circle cx="599" cy="444.4" r="3.7"/><circle cx="611.5" cy="449.7" r="3.7"/><circle cx="622.4" cy="455" r="3.7"/><circle cx="630.3" cy="461.8" r="3.7"/><circle cx="635.1" cy="469" r="3.7"/></g>
<path d="M449.8 487h7.2M453.4 483.4v7.2M453.8 487h7.2M457.4 483.4v7.2M468 470h7.2M471.6 466.4v7.2M484.8 453h7.2M488.4 449.4v7.2M499.5 440.5h7.2M503.1 436.9v7.2M506.4 435.3h7.2M510 431.7v7.2M509.8 433.3h7.2M513.4 429.7v7.2M513.4 431.5h7.2M517 427.9v7.2M516.4 430.2h7.2M520 426.6v7.2M519.2 429.2h7.2M522.8 425.6v7.2M522.2 428.6h7.2M525.8 425v7.2M524.6 428.4h7.2M528.2 424.8v7.2M532.4 427.9h7.2M536 424.3v7.2M548.8 430h7.2M552.4 426.4v7.2M580.4 436.2h7.2M584 432.6v7.2M607.9 446.1h7.2M611.5 442.5v7.2M626.7 455h7.2M630.3 451.4v7.2M632 469.5h7.2M635.6 465.9v7.2" stroke="#000" stroke-width="1.35" fill="none"/>
<text class="tk" transform="translate(413.4 519.1) scale(1 1.15)" text-anchor="middle">33.8</text><text class="tk" transform="translate(462.4 519.1) scale(1 1.15)" text-anchor="middle">33.85</text><text class="tk" transform="translate(511.2 519.1) scale(1 1.15)" text-anchor="middle">33.9</text><text class="tk" transform="translate(559.8 519.1) scale(1 1.15)" text-anchor="middle">33.95</text><text class="tk" transform="translate(608.6 519.1) scale(1 1.15)" text-anchor="middle">34</text><text class="tk" transform="translate(657.8 519.1) scale(1 1.15)" text-anchor="middle">34.05</text>
<text class="tk" transform="translate(399.5 425.9) scale(1 1.15)" text-anchor="end">3.5</text><text class="tk" transform="translate(399.5 459.4) scale(1 1.15)" text-anchor="end">3</text><text class="tk" transform="translate(399.5 492.7) scale(1 1.15)" text-anchor="end">2.5</text>
<g transform="translate(376 500.65) rotate(-90)" class="se"><text font-size="15.1" y="-0.2" stroke="#000" stroke-width="0.25" x="-0.16 3.34 31.14 34.94">||||</text><text font-size="13.4" font-style="italic" x="6.6" y="0" textLength="7" lengthAdjust="spacingAndGlyphs">w</text><text font-size="9.7" y="2.7"><tspan x="14.1 19.3 21.9">0.5</tspan><tspan font-style="italic" x="27.3">l</tspan></text><text font-size="10.5" x="38.8" y="2.8">∞</text><text font-size="15.1" y="-0.2" x="52.9">[</text><text font-size="12.8" x="56.4" y="0" textLength="21.5" lengthAdjust="spacingAndGlyphs">mm</text><text font-size="15.1" y="-0.2" x="76.6">]</text></g>
<g class="se" transform="translate(544.25 534.8)"><text font-size="14.2" x="-25.8" textLength="9.4" lengthAdjust="spacingAndGlyphs">Ω</text><text font-size="15.2" x="-12.2" y="0.6">[</text><text font-size="12.8" x="-8.2" textLength="18" lengthAdjust="spacingAndGlyphs">rad</text><text font-size="18.8" x="10.4" y="3">/</text><text font-size="12.8" x="17.1">s</text><text font-size="15.2" x="21.4" y="0.6">]</text></g>
</g>
<g id="plot9">
<path d="M224.4 560.5V646.3M275.6 560.5V646.3M326.6 560.5V646.3M377.5 560.5V646.3M429 560.5V646.3M480.3 560.5V646.3M221.7 576.2H502M221.7 597.7H502M221.7 619.4H502M221.7 641H502" stroke="#e4e4e4" stroke-width="0.8" fill="none"/>
<path d="M221.7 560.5V646.3H502M224.4 646.3v-3M275.6 646.3v-3M326.6 646.3v-3M377.5 646.3v-3M429 646.3v-3M480.3 646.3v-3M221.7 576.2h3M221.7 597.7h3M221.7 619.4h3M221.7 641h3" stroke="#262626" stroke-width="0.8" fill="none"/>
<path d="M222 638L273 635M450.3 626.7L502 623.5" stroke="#0000ff" stroke-width="2" fill="none"/>
<path d="M273 635L450.3 626.7" stroke="#0000ff" stroke-width="2" stroke-dasharray="6.3 6.17" stroke-dashoffset="0.8" fill="none"/>
<rect x="270.4" y="632.4" width="5.2" height="5.2" stroke="#000" stroke-width="1.5" fill="none"/>
<rect x="447.8" y="624" width="5.2" height="5.2" stroke="#000" stroke-width="1.5" fill="none"/>
<g fill="#0000ff"><circle cx="273" cy="635" r="3.7"/><circle cx="273.4" cy="631.4" r="3.7"/><circle cx="277" cy="621.6" r="3.7"/><circle cx="283.4" cy="611.6" r="3.7"/><circle cx="291.6" cy="602" r="3.7"/><circle cx="300.6" cy="593.6" r="3.7"/><circle cx="309.4" cy="586.6" r="3.7"/><circle cx="318.4" cy="580.4" r="3.7"/><circle cx="324.5" cy="577.7" r="3.7"/><circle cx="325.85" cy="577.28" r="3.7"/><circle cx="327.2" cy="576.9" r="3.7"/><circle cx="328.54" cy="576.55" r="3.7"/><circle cx="329.89" cy="576.23" r="3.7"/><circle cx="331.24" cy="575.95" r="3.7"/><circle cx="332.59" cy="575.7" r="3.7"/><circle cx="333.93" cy="575.49" r="3.7"/><circle cx="335.28" cy="575.31" r="3.7"/><circle cx="336.63" cy="575.16" r="3.7"/><circle cx="337.98" cy="575.04" r="3.7"/><circle cx="339.33" cy="574.96" r="3.7"/><circle cx="340.67" cy="574.91" r="3.7"/><circle cx="342.02" cy="574.9" r="3.7"/><circle cx="343.37" cy="574.92" r="3.7"/><circle cx="344.72" cy="574.97" r="3.7"/><circle cx="346.07" cy="575.06" r="3.7"/><circle cx="347.41" cy="575.18" r="3.7"/><circle cx="348.76" cy="575.33" r="3.7"/><circle cx="350.11" cy="575.52" r="3.7"/><circle cx="351.46" cy="575.74" r="3.7"/><circle cx="352.8" cy="575.99" r="3.7"/><circle cx="354.15" cy="576.28" r="3.7"/><circle cx="355.5" cy="576.6" r="3.7"/><circle cx="362.4" cy="578" r="3.7"/><circle cx="372.1" cy="580.3" r="3.7"/><circle cx="387.4" cy="585" r="3.7"/><circle cx="403.3" cy="590.5" r="3.7"/><circle cx="417.8" cy="596.6" r="3.7"/><circle cx="430.3" cy="603" r="3.7"/><circle cx="440.4" cy="609.8" r="3.7"/><circle cx="447.2" cy="617.3" r="3.7"/><circle cx="450.1" cy="624.8" r="3.7"/></g>
<path d="M269.4 636h7.2M273 632.4v7.2M273.4 632.4h7.2M277 628.8v7.2M288 605.6h7.2M291.6 602v7.2M305.8 586.8h7.2M309.4 583.2v7.2M320.9 575.5h7.2M324.5 571.9v7.2M327.4 572.3h7.2M331 568.7v7.2M330.7 571.1h7.2M334.3 567.5v7.2M333.9 570.3h7.2M337.5 566.7v7.2M337.3 569.9h7.2M340.9 566.3v7.2M340.6 569.8h7.2M344.2 566.2v7.2M344 569.8h7.2M347.6 566.2v7.2M347.8 569.8h7.2M351.4 566.2v7.2M358.8 571.4h7.2M362.4 567.8v7.2M383.8 577.2h7.2M387.4 573.6v7.2M414.2 588.6h7.2M417.8 585v7.2M436.8 598.5h7.2M440.4 594.9v7.2M446.4 605.5h7.2M450 601.9v7.2" stroke="#000" stroke-width="1.35" fill="none"/>
<text class="tk" transform="translate(224.4 662.9) scale(1 1.15)" text-anchor="middle">33.8</text><text class="tk" transform="translate(275.6 662.9) scale(1 1.15)" text-anchor="middle">33.85</text><text class="tk" transform="translate(326.6 662.9) scale(1 1.15)" text-anchor="middle">33.9</text><text class="tk" transform="translate(377.5 662.9) scale(1 1.15)" text-anchor="middle">33.95</text><text class="tk" transform="translate(429 662.9) scale(1 1.15)" text-anchor="middle">34</text><text class="tk" transform="translate(480.3 662.9) scale(1 1.15)" text-anchor="middle">34.05</text>
<text class="tk" transform="translate(216.7 580.8) scale(1 1.15)" text-anchor="end">1.6</text><text class="tk" transform="translate(216.7 602.3) scale(1 1.15)" text-anchor="end">1.4</text><text class="tk" transform="translate(216.7 624) scale(1 1.15)" text-anchor="end">1.2</text><text class="tk" transform="translate(216.7 645.6) scale(1 1.15)" text-anchor="end">1</text>
<g transform="translate(193.2 646.65) rotate(-90)" class="se"><text font-size="15.1" y="-0.2" stroke="#000" stroke-width="0.25" x="-0.16 3.34 36.34 40.14">||||</text><text font-size="13.4" font-style="italic" x="6.6" y="0" textLength="7" lengthAdjust="spacingAndGlyphs">w</text><text font-size="9.7" y="2.7"><tspan x="14.1 19.3 21.9 27.1">0.25</tspan><tspan font-style="italic" x="32.5">l</tspan></text><text font-size="10.5" x="44" y="2.8">∞</text><text font-size="15.1" y="-0.2" x="58.1">[</text><text font-size="12.8" x="61.6" y="0" textLength="21.5" lengthAdjust="spacingAndGlyphs">mm</text><text font-size="15.1" y="-0.2" x="81.8">]</text></g>
<text class="se" font-size="13.3" stroke="#000" stroke-width="0.15" x="361.35" y="554.1" text-anchor="middle" textLength="73.3" lengthAdjust="spacingAndGlyphs">200 elements</text>
</g>
<g id="plot10">
<path d="M224.4 689V775M275.6 689V775M326.6 689V775M377.5 689V775M429 689V775M480.3 689V775M221.7 693.6H502M221.7 726.5H502M221.7 759.5H502" stroke="#e4e4e4" stroke-width="0.8" fill="none"/>
<path d="M221.7 689V775H502M224.4 775v-3M275.6 775v-3M326.6 775v-3M377.5 775v-3M429 775v-3M480.3 775v-3M221.7 693.6h3M221.7 726.5h3M221.7 759.5h3" stroke="#262626" stroke-width="0.8" fill="none"/>
<path d="M222 761.6L273 758M450.3 748.2L502 745" stroke="#0000ff" stroke-width="2" fill="none"/>
<path d="M273 758L450.3 748.2" stroke="#0000ff" stroke-width="2" stroke-dasharray="6.3 6.17" stroke-dashoffset="0.8" fill="none"/>
<rect x="270.4" y="755.4" width="5.2" height="5.2" stroke="#000" stroke-width="1.5" fill="none"/>
<rect x="447.8" y="745.7" width="5.2" height="5.2" stroke="#000" stroke-width="1.5" fill="none"/>
<g fill="#0000ff"><circle cx="273" cy="757.6" r="3.7"/><circle cx="273.4" cy="754.6" r="3.7"/><circle cx="277" cy="748.6" r="3.7"/><circle cx="283.4" cy="741.6" r="3.7"/><circle cx="291.6" cy="734.4" r="3.7"/><circle cx="300.6" cy="727" r="3.7"/><circle cx="309.4" cy="720" r="3.7"/><circle cx="318.4" cy="714.6" r="3.7"/><circle cx="324.5" cy="711.4" r="3.7"/><circle cx="325.85" cy="710.97" r="3.7"/><circle cx="327.2" cy="710.56" r="3.7"/><circle cx="328.54" cy="710.17" r="3.7"/><circle cx="329.89" cy="709.81" r="3.7"/><circle cx="331.24" cy="709.48" r="3.7"/><circle cx="332.59" cy="709.17" r="3.7"/><circle cx="333.93" cy="708.88" r="3.7"/><circle cx="335.28" cy="708.62" r="3.7"/><circle cx="336.63" cy="708.39" r="3.7"/><circle cx="337.98" cy="708.18" r="3.7"/><circle cx="339.33" cy="707.99" r="3.7"/><circle cx="340.67" cy="707.83" r="3.7"/><circle cx="342.02" cy="707.69" r="3.7"/><circle cx="343.37" cy="707.58" r="3.7"/><circle cx="344.72" cy="707.5" r="3.7"/><circle cx="346.07" cy="707.43" r="3.7"/><circle cx="347.41" cy="707.4" r="3.7"/><circle cx="348.76" cy="707.39" r="3.7"/><circle cx="350.11" cy="707.4" r="3.7"/><circle cx="351.46" cy="707.44" r="3.7"/><circle cx="352.8" cy="707.5" r="3.7"/><circle cx="354.15" cy="707.59" r="3.7"/><circle cx="355.5" cy="707.7" r="3.7"/><circle cx="362.4" cy="708.6" r="3.7"/><circle cx="372.1" cy="710" r="3.7"/><circle cx="387.4" cy="713" r="3.7"/><circle cx="403.1" cy="717.3" r="3.7"/><circle cx="417.8" cy="722.2" r="3.7"/><circle cx="430.3" cy="727" r="3.7"/><circle cx="440.4" cy="732.5" r="3.7"/><circle cx="447.3" cy="739.4" r="3.7"/><circle cx="450.1" cy="746.4" r="3.7"/></g>
<path d="M269.1 757.7h7.2M272.7 754.1v7.2M269.6 758.3h7.2M273.2 754.7v7.2M273.6 753.5h7.2M277.2 749.9v7.2M288 734.4h7.2M291.6 730.8v7.2M305.8 719h7.2M309.4 715.4v7.2M320.9 707.4h7.2M324.5 703.8v7.2M327.4 703.6h7.2M331 700v7.2M330.7 702.4h7.2M334.3 698.8v7.2M333.9 701.6h7.2M337.5 698v7.2M337.3 701h7.2M340.9 697.4v7.2M340.6 700.5h7.2M344.2 696.9v7.2M344 700.2h7.2M347.6 696.6v7.2M347.8 700h7.2M351.4 696.4v7.2M358.8 700.6h7.2M362.4 697v7.2M383.8 704.5h7.2M387.4 700.9v7.2M414.2 712h7.2M417.8 708.4v7.2M436.8 721.4h7.2M440.4 717.8v7.2M446.4 727h7.2M450 723.4v7.2" stroke="#000" stroke-width="1.35" fill="none"/>
<text class="tk" transform="translate(224.4 791.6) scale(1 1.15)" text-anchor="middle">33.8</text><text class="tk" transform="translate(275.6 791.6) scale(1 1.15)" text-anchor="middle">33.85</text><text class="tk" transform="translate(326.6 791.6) scale(1 1.15)" text-anchor="middle">33.9</text><text class="tk" transform="translate(377.5 791.6) scale(1 1.15)" text-anchor="middle">33.95</text><text class="tk" transform="translate(429 791.6) scale(1 1.15)" text-anchor="middle">34</text><text class="tk" transform="translate(480.3 791.6) scale(1 1.15)" text-anchor="middle">34.05</text>
<text class="tk" transform="translate(216.7 698.2) scale(1 1.15)" text-anchor="end">3.5</text><text class="tk" transform="translate(216.7 731.1) scale(1 1.15)" text-anchor="end">3</text><text class="tk" transform="translate(216.7 764.1) scale(1 1.15)" text-anchor="end">2.5</text>
<g transform="translate(193.2 772.65) rotate(-90)" class="se"><text font-size="15.1" y="-0.2" stroke="#000" stroke-width="0.25" x="-0.16 3.34 31.14 34.94">||||</text><text font-size="13.4" font-style="italic" x="6.6" y="0" textLength="7" lengthAdjust="spacingAndGlyphs">w</text><text font-size="9.7" y="2.7"><tspan x="14.1 19.3 21.9">0.5</tspan><tspan font-style="italic" x="27.3">l</tspan></text><text font-size="10.5" x="38.8" y="2.8">∞</text><text font-size="15.1" y="-0.2" x="52.9">[</text><text font-size="12.8" x="56.4" y="0" textLength="21.5" lengthAdjust="spacingAndGlyphs">mm</text><text font-size="15.1" y="-0.2" x="76.6">]</text></g>
<g class="se" transform="translate(361.35 807.3)"><text font-size="14.2" x="-25.8" textLength="9.4" lengthAdjust="spacingAndGlyphs">Ω</text><text font-size="15.2" x="-12.2" y="0.6">[</text><text font-size="12.8" x="-8.2" textLength="18" lengthAdjust="spacingAndGlyphs">rad</text><text font-size="18.8" x="10.4" y="3">/</text><text font-size="12.8" x="17.1">s</text><text font-size="15.2" x="21.4" y="0.6">]</text></g>
</g>
<g id="legend">
<path d="M114.8 52.5H140.7" stroke="#0000ff" stroke-width="2"/><path d="M114.8 65.6H140.7" stroke="#0000ff" stroke-width="2" stroke-dasharray="6.4 6"/><circle cx="128.2" cy="79.2" r="3.7" fill="#0000ff"/><path d="M124.6 92.1h7.2M128.2 88.5v7.2" stroke="#000" stroke-width="1.35"/>
<text class="se" font-size="11.3" x="143.3" y="55.8" textLength="68.5" lengthAdjust="spacingAndGlyphs">SSM-po-stable</text>
<text class="se" font-size="11.3" x="143.3" y="68.9" textLength="80.6" lengthAdjust="spacingAndGlyphs">SSM-po-unstable</text>
<text class="se" font-size="11.3" x="143.3" y="82" textLength="70" lengthAdjust="spacingAndGlyphs">SSM-tor-stable</text>
<text class="se" font-size="11.3" x="143.3" y="94.8" textLength="104.2" lengthAdjust="spacingAndGlyphs">Numerical Integration</text>
</g>
<g id="annot">
<path d="M107.6 17.6L123.72 20.54" stroke="#00ff00" stroke-width="1" fill="none"/><path d="M130.1 21.7L120.62 23.53L123.72 20.54L121.87 16.64Z" fill="#00ff00"/><path d="M190.7 17.3L176.78 21.66" stroke="#00ff00" stroke-width="1" fill="none"/><path d="M170.6 23.6L178.14 17.57L176.78 21.66L180.23 24.25Z" fill="#00ff00"/><path d="M133.8 179L133.5 169.08" stroke="#00ff00" stroke-width="1" fill="none"/><path d="M133.3 162.6L137.07 171.49L133.5 169.08L130.08 171.7Z" fill="#00ff00"/><path d="M173.2 176.6L170.2 168.29" stroke="#00ff00" stroke-width="1" fill="none"/><path d="M168 162.2L174.35 169.48L170.2 168.29L167.76 171.85Z" fill="#00ff00"/>
<text class="gr" transform="translate(103.2 22.8) scale(1 1.06)" text-anchor="middle">A</text><text class="gr" transform="translate(198.1 22.3) scale(1 1.06)" text-anchor="middle">B</text><text class="gr" transform="translate(135.3 191.8) scale(1 1.06)" text-anchor="middle">A</text><text class="gr" transform="translate(174.9 189.2) scale(1 1.06)" text-anchor="middle">B</text>
</g>
</svg>
</body></html>
